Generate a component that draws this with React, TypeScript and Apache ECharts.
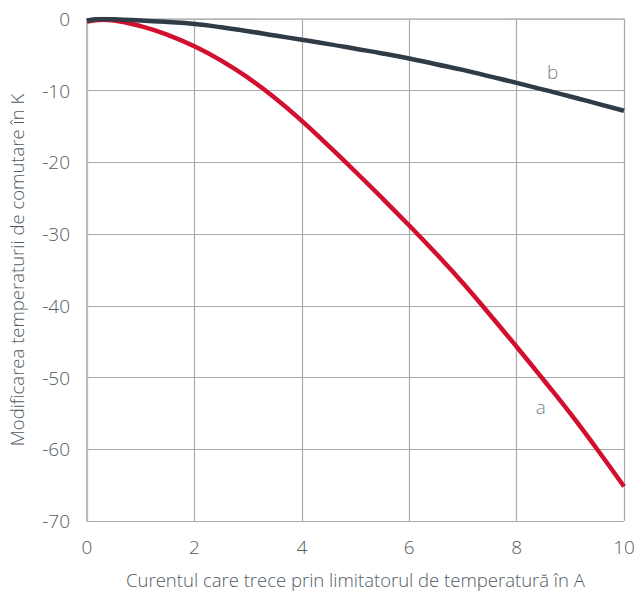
import React, { useEffect, useRef } from "react";
import * as echarts from "echarts";

const xValues = [0, 0.3, 0.5, 1, 1.5, 2, 2.5, 3, 3.5, 4, 4.5, 5, 5.5, 6, 6.5, 7, 7.5, 8, 8.5, 9, 9.5, 10];
const seriesA = [-0.35, -0.1, -0.2, -1.0, -2.2, -3.8, -5.8, -8.2, -11.0, -14.2, -17.7, -21.3, -25.0, -28.8, -32.7, -36.8, -41.2, -45.7, -50.3, -55.0, -60.0, -65.2];
const seriesB = [-0.2, 0.0, -0.05, -0.2, -0.42, -0.7, -1.15, -1.7, -2.3, -2.9, -3.5, -4.15, -4.8, -5.5, -6.3, -7.1, -8.0, -8.9, -9.85, -10.8, -11.8, -12.8];
const curveLabels = ["a", "b"];
const labelX = [8.45, 8.67];
const labelY = [-54.1, -7.4];
const xTicks = [0, 2, 4, 6, 8, 10];
const yTicks = [0, -10, -20, -30, -40, -50, -60, -70];
const xTitle = "Curentul care trece prin limitatorul de temperatură în A";
const yTitle = "Modificarea temperaturii de comutare în K";

const FONT = "'Open Sans', 'Noto Sans', sans-serif";
const TEXT = "#515b65";

export default function App() {
  const ref = useRef<HTMLDivElement>(null);
  useEffect(() => {
    if (!ref.current) return;
    const chart = echarts.init(ref.current, null, { renderer: "svg" });
    chart.setOption({
      animation: false,
      grid: { left: 87, right: 11, top: 19, bottom: 70, outerBoundsMode: "none", containLabel: false },
      xAxis: {
        type: "value",
        min: xTicks[0],
        max: xTicks[xTicks.length - 1],
        interval: 2,
        name: xTitle,
        nameLocation: "middle",
        nameGap: 49,
        nameTextStyle: { fontFamily: FONT, fontSize: 18.5, fontWeight: 300, color: TEXT },
        axisLine: { show: true, lineStyle: { color: "#bbbbbb", width: 1.5 } },
        axisTick: { show: false },
        axisLabel: { fontFamily: FONT, fontSize: 19, fontWeight: 300, color: TEXT, margin: 16 },
        splitLine: { show: true, lineStyle: { color: "#aaaaaa", width: 1.2 } },
      },
      yAxis: {
        type: "value",
        min: yTicks[yTicks.length - 1],
        max: yTicks[0],
        interval: 10,
        name: yTitle,
        nameLocation: "middle",
        nameGap: 61,
        nameRotate: 90,
        nameTextStyle: { fontFamily: FONT, fontSize: 18.5, fontWeight: 300, color: TEXT },
        axisLine: { show: true, onZero: false, lineStyle: { color: "#bbbbbb", width: 2 } },
        axisTick: { show: false },
        axisLabel: { fontFamily: FONT, fontSize: 19, fontWeight: 300, color: TEXT, margin: 17 },
        splitLine: { show: true, lineStyle: { color: "#aaaaaa", width: 1.2 } },
      },
      series: [
        {
          name: "a",
          type: "line",
          smooth: 0.5,
          showSymbol: false,
          data: xValues.map((x, i) => [x, seriesA[i]]),
          lineStyle: { color: "#d20f2f", width: 4.5 },
          z: 3,
        },
        {
          name: "b",
          type: "line",
          smooth: 0.5,
          showSymbol: false,
          data: xValues.map((x, i) => [x, seriesB[i]]),
          lineStyle: { color: "#2f3b46", width: 4.5 },
          z: 4,
        },
        {
          name: "labels",
          type: "scatter",
          symbolSize: 0,
          data: curveLabels.map((t, i) => ({ value: [labelX[i], labelY[i]], name: t })),
          label: {
            show: true,
            position: "inside",
            formatter: (p: any) => p.name,
            fontFamily: FONT,
            fontSize: 19,
            fontWeight: 300,
            color: TEXT,
          },
          z: 5,
        },
      ],
    });
    return () => chart.dispose();
  }, []);
  return (
    <div
      ref={ref}
      style={{ position: "absolute", left: 0, top: 0, width: 635, height: 591 }}
    />
  );
}
